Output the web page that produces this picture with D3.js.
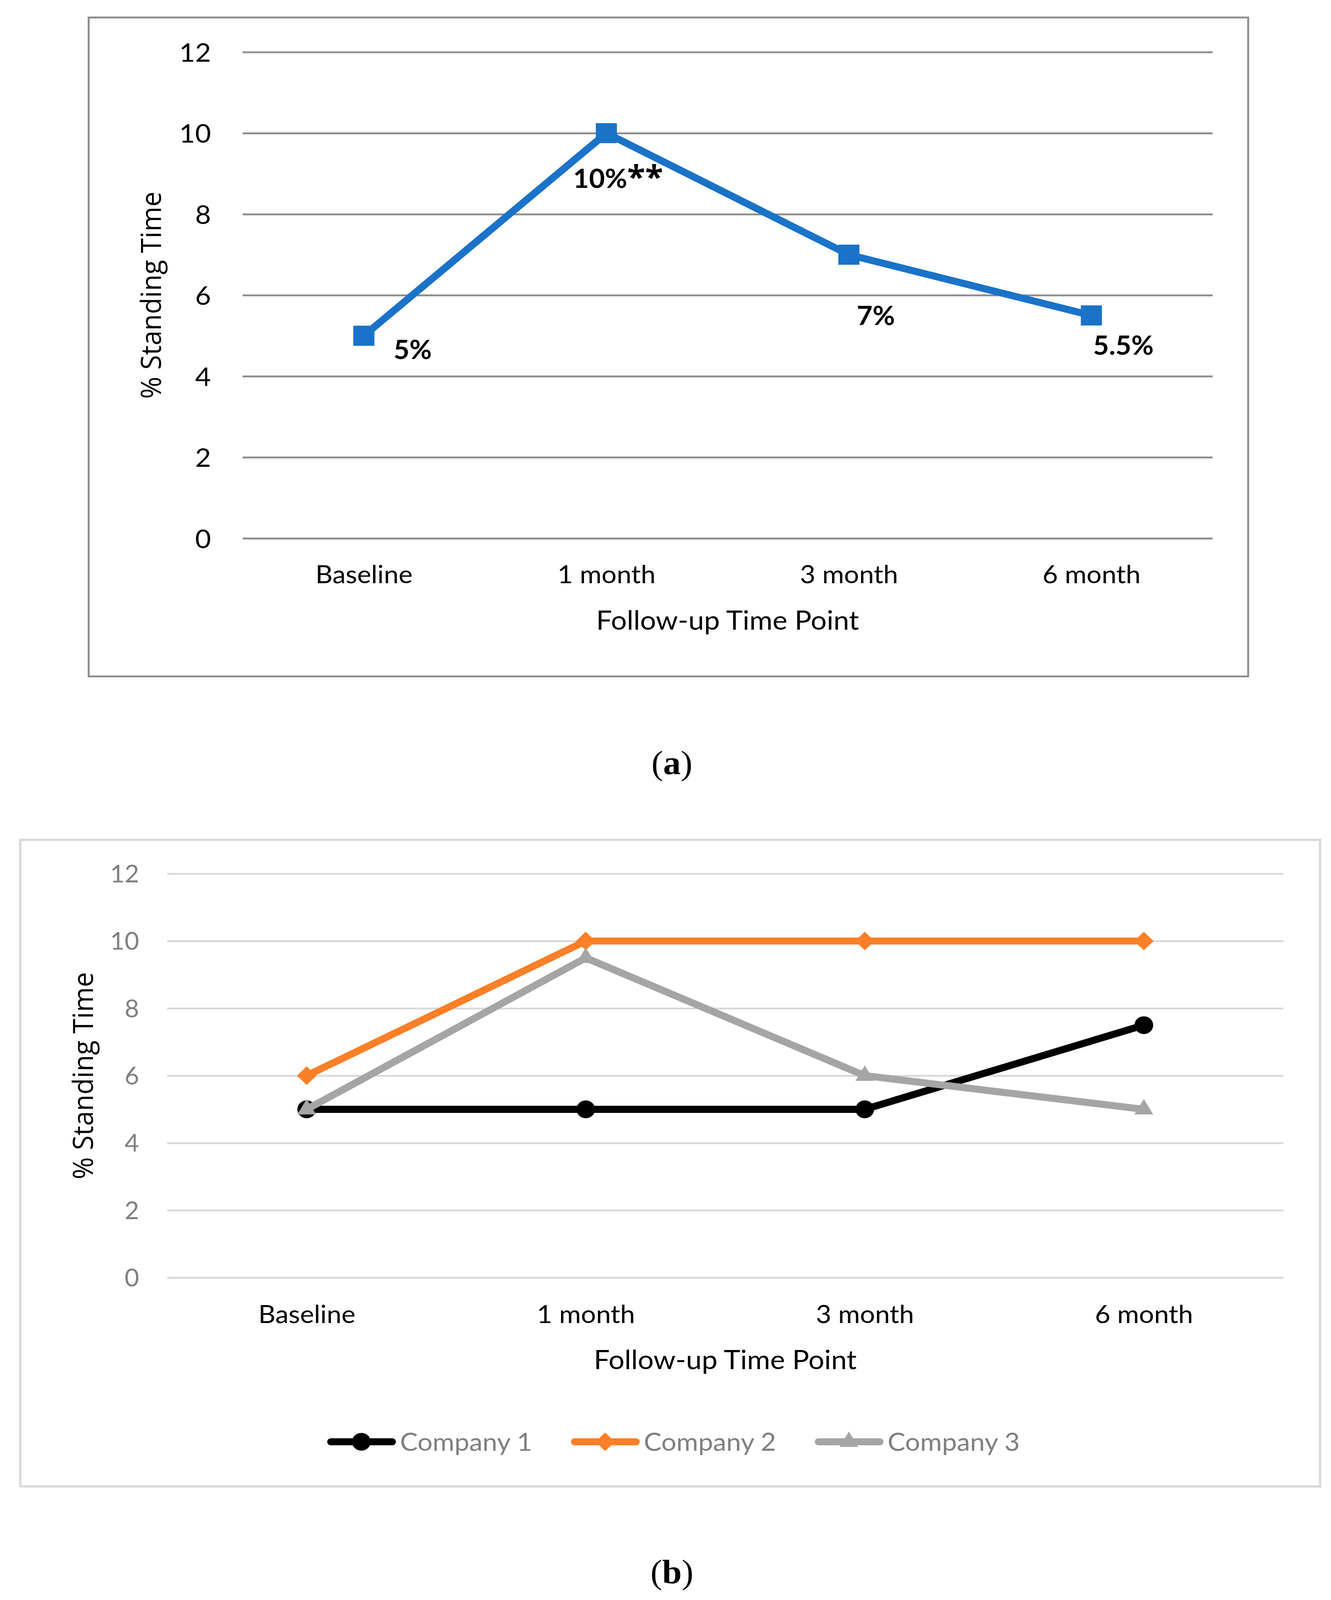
<!DOCTYPE html>
<html>
<head>
<title>% Standing Time by follow-up</title>
<script src="https://d3js.org/d3.v7.min.js"></script>
<style>
  html, body { margin: 0; padding: 0; background: #fff; overflow: hidden; }
  svg { display: block; width: 100vw; height: 100vh; }
</style>
</head>
<body>
<div id="chart"></div>
<script>
const timePoints = ["Baseline", "1 month", "3 month", "6 month"];
const yTicks = [0, 2, 4, 6, 8, 10, 12];

// panel (a): all companies together
const overallValues = [5, 10, 7, 5.5];
const overallLabels = ["5%", "10%", "7%", "5.5%"];
const overallStars = ["", "**", "", ""];

// panel (b): per company
const companies = ["Company 1", "Company 2", "Company 3"];
const company1 = [5, 5, 5, 7.5];
const company2 = [6, 10, 10, 10];
const company3 = [5, 9.5, 6, 5];

// data labels in (a) were dragged around by hand, so keep their offsets here
const labelShift = [[125, 63], [30, 147], [69, 189], [82, 105]];

const W = 3407, H = 4298;
const calibri = "Lato, 'Open Sans', sans-serif";
const segoe = "'Open Sans', 'Noto Sans', sans-serif";

// the viewport is a bit shorter than asked, so stretch the drawing onto it
const svg = d3.select("#chart").append("svg")
  .attr("viewBox", `0 0 ${W} ${H}`)
  .attr("preserveAspectRatio", "none");

svg.append("rect").attr("width", W).attr("height", H).attr("fill", "white");

function drawAxes(x, y, opts) {
  const left = x.range()[0], right = x.range()[1];
  const bottom = y.range()[0];

  const gy = svg.append("g")
    .attr("transform", `translate(${left},0)`)
    .call(d3.axisLeft(y).tickValues(yTicks).tickSize(-(right - left)).tickPadding(opts.yPad));
  gy.select(".domain").remove();
  gy.selectAll(".tick line")
    .attr("stroke", opts.gridColor)
    .attr("stroke-width", opts.gridWidth);
  gy.selectAll(".tick text")
    .attr("fill", opts.yTickColor)
    .attr("dy", "0.36em")
    .style("font-family", calibri)
    .style("font-size", opts.yTickSize + "px");

  const gx = svg.append("g")
    .attr("transform", `translate(0,${bottom})`)
    .call(d3.axisBottom(x).tickSize(0));
  gx.select(".domain").remove();
  gx.selectAll(".tick text")
    .attr("y", opts.xLabelDrop)
    .attr("dy", null)
    .attr("fill", "black")
    .style("font-family", calibri)
    .style("font-size", "68px");

  svg.append("text")
    .attr("x", (left + right) / 2)
    .attr("y", opts.xTitleY)
    .attr("text-anchor", "middle")
    .style("font-family", calibri)
    .style("font-size", "72px")
    .text("Follow-up Time Point");

  const midY = (y.range()[0] + y.range()[1]) / 2;
  svg.append("text")
    .attr("transform", `translate(${opts.yTitleX},${midY}) rotate(-90)`)
    .attr("text-anchor", "middle")
    .style("font-family", segoe)
    .style("font-size", "72px")
    .text("% Standing Time");
}

function caption(letter, baseY) {
  const t = svg.append("text")
    .attr("x", 1720)
    .attr("y", baseY)
    .attr("text-anchor", "middle")
    .style("font-family", "'Liberation Serif', 'DejaVu Serif', serif")
    .style("font-size", "90px");
  t.append("tspan").text("(");
  t.append("tspan").attr("font-weight", "bold").text(letter);
  t.append("tspan").text(")");
}

// ---------- panel (a) ----------
svg.append("rect")
  .attr("x", 227).attr("y", 47)
  .attr("width", 2968).attr("height", 1770)
  .attr("fill", "none")
  .attr("stroke", "#8c8c8c")
  .attr("stroke-width", 5);

const xA = d3.scalePoint().domain(timePoints).range([621, 3104]).padding(0.5);
const yA = d3.scaleLinear().domain([0, 12]).range([1446, 140]);

drawAxes(xA, yA, {
  yPad: 81, gridColor: "#8c8c8c", gridWidth: 5, yTickColor: "black", yTickSize: 70,
  xLabelDrop: 121, xTitleY: 1691, yTitleX: 412
});

const blue = "#1a73c8";
const lineA = d3.line().x((d, i) => xA(timePoints[i])).y(d => yA(d));

svg.append("path")
  .datum(overallValues)
  .attr("d", lineA)
  .attr("fill", "none")
  .attr("stroke", blue)
  .attr("stroke-width", 19)
  .attr("stroke-linejoin", "round");

svg.selectAll(".markA")
  .data(overallValues)
  .enter().append("path")
  .attr("class", "markA")
  .attr("transform", (d, i) => `translate(${xA(timePoints[i])},${yA(d)})`)
  .attr("d", d3.symbol().type(d3.symbolSquare).size(54 * 54))
  .attr("fill", blue);

const labA = svg.selectAll(".labA")
  .data(overallValues)
  .enter().append("text")
  .attr("class", "labA")
  .attr("x", (d, i) => xA(timePoints[i]) + labelShift[i][0])
  .attr("y", (d, i) => yA(d) + labelShift[i][1])
  .attr("text-anchor", "middle")
  .style("font-family", calibri)
  .style("font-weight", "bold")
  .style("font-size", "70px");
labA.append("tspan").text((d, i) => overallLabels[i]);
// Lato's asterisk is tiny, so blow it up a bit
labA.append("tspan")
  .style("font-family", "'Open Sans', sans-serif")
  .style("font-size", "84px")
  .text((d, i) => overallStars[i]);

caption("a", 2080);

// ---------- panel (b) ----------
svg.append("rect")
  .attr("x", 52).attr("y", 2256)
  .attr("width", 3327).attr("height", 1737)
  .attr("fill", "none")
  .attr("stroke", "#d9d9d9")
  .attr("stroke-width", 6);

const xB = d3.scalePoint().domain(timePoints).range([428, 3285]).padding(0.5);
const yB = d3.scaleLinear().domain([0, 12]).range([3432, 2347]);

drawAxes(xB, yB, {
  yPad: 72, gridColor: "#d9d9d9", gridWidth: 5, yTickColor: "#808080", yTickSize: 64,
  xLabelDrop: 122, xTitleY: 3678, yTitleX: 238
});

const seriesB = [
  { name: companies[0], values: company1, color: "#000000", symbol: d3.symbolCircle, size: 1800, rot: 0 },
  { name: companies[1], values: company2, color: "#fd7f27", symbol: d3.symbolSquare, size: 1250, rot: 45 },
  { name: companies[2], values: company3, color: "#a5a5a5", symbol: d3.symbolTriangle, size: 1000, rot: 0 }
];

const lineB = d3.line().x((d, i) => xB(timePoints[i])).y(d => yB(d));

seriesB.forEach(s => {
  const g = svg.append("g");
  g.append("path")
    .datum(s.values)
    .attr("d", lineB)
    .attr("fill", "none")
    .attr("stroke", s.color)
    .attr("stroke-width", 19)
    .attr("stroke-linejoin", "round")
    .attr("stroke-linecap", "round");
  g.selectAll("path.mk")
    .data(s.values)
    .enter().append("path")
    .attr("class", "mk")
    .attr("transform", (d, i) => `translate(${xB(timePoints[i])},${yB(d)}) rotate(${s.rot})`)
    .attr("d", d3.symbol().type(s.symbol).size(s.size))
    .attr("fill", s.color);
});

// legend
const legY = 3873;
const leg = svg.selectAll(".leg")
  .data(seriesB)
  .enter().append("g")
  .attr("class", "leg")
  .attr("transform", (d, i) => `translate(${837 + i * 624},${legY})`);

leg.append("line")
  .attr("x1", 10).attr("x2", 167)
  .attr("stroke", d => d.color)
  .attr("stroke-width", 19)
  .attr("stroke-linecap", "round");

leg.append("path")
  .attr("transform", d => `translate(88,0) rotate(${d.rot})`)
  .attr("d", d => d3.symbol().type(d.symbol).size(d.size)())
  .attr("fill", d => d.color);

leg.append("text")
  .attr("x", 187)
  .attr("dy", "0.35em")
  .attr("fill", "#808080")
  .style("font-family", calibri)
  .style("font-size", "68px")
  .text(d => d.name);

caption("b", 4253);
</script>
</body>
</html>
